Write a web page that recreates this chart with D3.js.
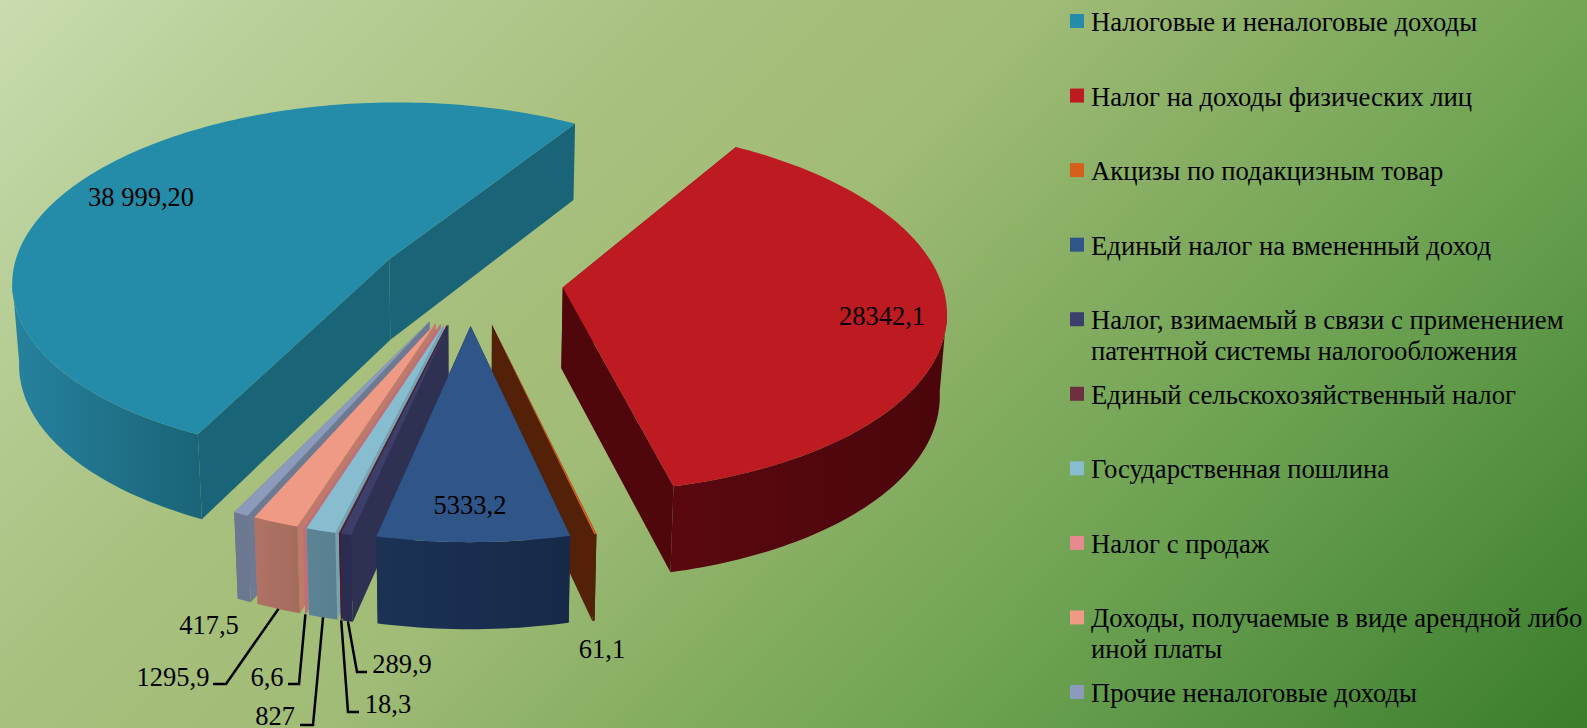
<!DOCTYPE html>
<html>
<head>
<meta charset="utf-8">
<script src="https://cdn.jsdelivr.net/npm/d3@7"></script>
<style>
  html,body{margin:0;padding:0;overflow:hidden;}
  svg{display:block;}
  text{font-family:"Liberation Serif","Times New Roman",serif;fill:#000;}
</style>
</head>
<body>
<div id="chart"></div>
<script>
// data, in legend order
var categories = [
  ['Налоговые и неналоговые доходы'],
  ['Налог на доходы физических лиц'],
  ['Акцизы по подакцизным товар'],
  ['Единый налог на вмененный доход'],
  ['Налог, взимаемый в связи с применением','патентной системы налогообложения'],
  ['Единый сельскохозяйственный налог'],
  ['Государственная пошлина'],
  ['Налог с продаж'],
  ['Доходы, получаемые в виде арендной либо','иной платы'],
  ['Прочие неналоговые доходы']
];
var values = [38999.2, 28342.1, 61.1, 5333.2, 289.9, 18.3, 827, 6.6, 1295.9, 417.5];
var valueLabels = ['38 999,20','28342,1','61,1','5333,2','289,9','18,3','827','6,6','1295,9','417,5'];

// colours
var topColors   = ['#248ca8','#be1a22','#d4601c','#2f5589','#3d3f6b','#6e2f40','#88bdd0','#e58b8d','#ee9a85','#8c9bbb'];
var wallColors  = ['#1a6478','#4f070c','#522107','#1a2d4e','#2f3153','#4a1f2b','#76a3b3','#c07075','#bd7b6b','#6e7a92'];
var outerLeft   = ['#26829e','#5a0810','#522107','#1b3255','#2b2d50','#4a1f2b','#5c8495','#c07075','#b07265','#6b7890'];
var outerRight  = ['#1a6478','#4b060b','#522107','#172948','#2b2d50','#4a1f2b','#5a7f90','#c07075','#a56c5e','#6b7890'];

// manual label places, like the ones dragged by hand in the original
var labelPlaces = [
  {x:141,y:197},{x:882,y:316},{x:602,y:649},{x:470,y:505},
  {x:402,y:664,elbow:[357,672],end:[367,672]},
  {x:388,y:704,elbow:[348,712],end:[359,712]},
  {x:275,y:716,elbow:[313,725],end:[300,725]},
  {x:267,y:677,elbow:[299,684],end:[288,684]},
  {x:173,y:677,elbow:[226,684],end:[213,684]},
  {x:209,y:625}
];

var width = 1587, height = 728;
var fontSize = 26.5;

// flat pie -> screen, tilted with a bit of perspective
var cx = 470, cy = 280.3, rx = 378.5, ry = 179.6, persp = 0.116;
var explode = 0.247;
var startAngle = 205.95 * Math.PI / 180;

function project(u, v, low){
  var w = 1 / (1 - persp * v);
  var x = rx * u * w, y = ry * v * w;
  if(low){
    x = x * 0.985;
    y = y + 81 * (1 + 0.06 * v);
  }
  return [cx + x, cy + y];
}

var turn = 2 * Math.PI;
var pie = d3.pie().sort(null).value(function(d){return d})
  .startAngle(startAngle).endAngle(startAngle + turn);
var slices = pie(values).map(function(d, i){
  var mid = (d.startAngle + d.endAngle) / 2;
  // slices past 12 o'clock are brought back into one turn
  var back = d.startAngle >= turn ? turn : 0;
  return {i:i, a0:d.startAngle - back, a1:d.endAngle - back, mid:mid,
    ou: explode * Math.sin(mid), ov: -explode * Math.cos(mid)};
});

function apex(s, low){ return project(s.ou, s.ov, low); }
function rim(s, a, low){ return project(s.ou + Math.sin(a), s.ov - Math.cos(a), low); }

// only the part of the rim that faces the viewer gets a wall
// (perspective pulls the widest point a little towards the front)
var frontFrom = 97 * Math.PI / 180, frontTo = 263 * Math.PI / 180;
function rimPoints(s, a0, a1, low){
  var n = Math.max(2, Math.ceil((a1 - a0) / 0.02));
  var t = d3.scaleLinear().domain([0, n]).range([a0, a1]);
  return d3.range(n + 1).map(function(k){ return rim(s, t(k), low) });
}

var line = d3.line();
function facePath(pts){ return line(pts) + 'Z' }

var svg = d3.select('#chart').append('svg').attr('width', width).attr('height', height);
var defs = svg.append('defs');

var bg = defs.append('linearGradient').attr('id', 'bg')
  .attr('gradientUnits', 'userSpaceOnUse')
  .attr('x1', 0).attr('y1', 0).attr('x2', 1157).attr('y2', 1157);
[[0,'#c9dcb0'],[0.13,'#b8cf98'],[0.315,'#a7c07d'],[0.45,'#a1bc77'],[0.56,'#8bb066'],[0.685,'#74a656'],[0.76,'#669e4e'],[1,'#3a7d2b']]
  .forEach(function(s){ bg.append('stop').attr('offset', s[0]).attr('stop-color', s[1]) });

svg.append('rect').attr('width', width).attr('height', height).attr('fill', 'url(#bg)');

// far slices first, blue wedge in front
var order = slices.slice().sort(function(a, b){ return d3.ascending(-Math.cos(a.mid), -Math.cos(b.mid)) });

var gSlices = svg.selectAll('.slice').data(order).enter().append('g').attr('class', 'slice');

gSlices.each(function(s){
  var g = d3.select(this);

  // the two straight walls
  [s.a0, s.a1].forEach(function(a){
    g.append('path')
      .attr('d', facePath([apex(s,false), rim(s,a,false), rim(s,a,true), apex(s,true)]))
      .attr('fill', wallColors[s.i]);
  });

  // outer wall, only what is seen from the front
  var from = Math.max(s.a0, frontFrom), to = Math.min(s.a1, frontTo);
  if(to > from){
    var xa = rim(s, from, false)[0], xb = rim(s, to, false)[0];
    var grad = defs.append('linearGradient').attr('id', 'outer' + s.i)
      .attr('gradientUnits', 'userSpaceOnUse')
      .attr('x1', Math.min(xa, xb)).attr('y1', 0).attr('x2', Math.max(xa, xb) + 0.01).attr('y2', 0);
    grad.append('stop').attr('offset', 0).attr('stop-color', outerLeft[s.i]);
    grad.append('stop').attr('offset', 1).attr('stop-color', outerRight[s.i]);

    var upper = rimPoints(s, from, to, false), lower = rimPoints(s, from, to, true);
    g.append('path').attr('d', facePath(upper.concat(lower.reverse())))
      .attr('fill', 'url(#outer' + s.i + ')');
  }

  // top
  g.append('path').attr('d', facePath([apex(s,false)].concat(rimPoints(s, s.a0, s.a1, false))))
    .attr('fill', topColors[s.i]);
});

// leader lines for the small slices
var leaders = slices.filter(function(s){ return labelPlaces[s.i].elbow });
svg.selectAll('.leader').data(leaders).enter().append('path')
  .attr('class', 'leader')
  .attr('d', function(s){
    var p = labelPlaces[s.i];
    return line([rim(s, s.mid, true), p.elbow, p.end]);
  })
  .attr('fill', 'none').attr('stroke', '#000').attr('stroke-width', 2.5);

svg.selectAll('.value').data(slices).enter().append('text')
  .attr('class', 'value')
  .attr('x', function(s){ return labelPlaces[s.i].x })
  .attr('y', function(s){ return labelPlaces[s.i].y })
  .attr('text-anchor', 'middle').attr('dominant-baseline', 'central')
  .attr('font-size', fontSize)
  .text(function(s){ return valueLabels[s.i] });

// legend
var legendY = d3.scalePoint().domain(d3.range(categories.length)).range([21, 692]);
var legend = svg.selectAll('.legend').data(categories).enter().append('g')
  .attr('class', 'legend')
  .attr('transform', function(d, i){ return 'translate(1070,' + legendY(i) + ')' });
legend.append('rect').attr('x', 0).attr('y', -7).attr('width', 14).attr('height', 14)
  .attr('fill', function(d, i){ return topColors[i] });
legend.selectAll('text').data(function(d){ return d }).enter().append('text')
  .attr('x', 21)
  .attr('y', function(d, k){ return 1 + k * 31 })
  .attr('dominant-baseline', 'central')
  .attr('font-size', 26.7)
  .text(function(d){ return d });
</script>
</body>
</html>
